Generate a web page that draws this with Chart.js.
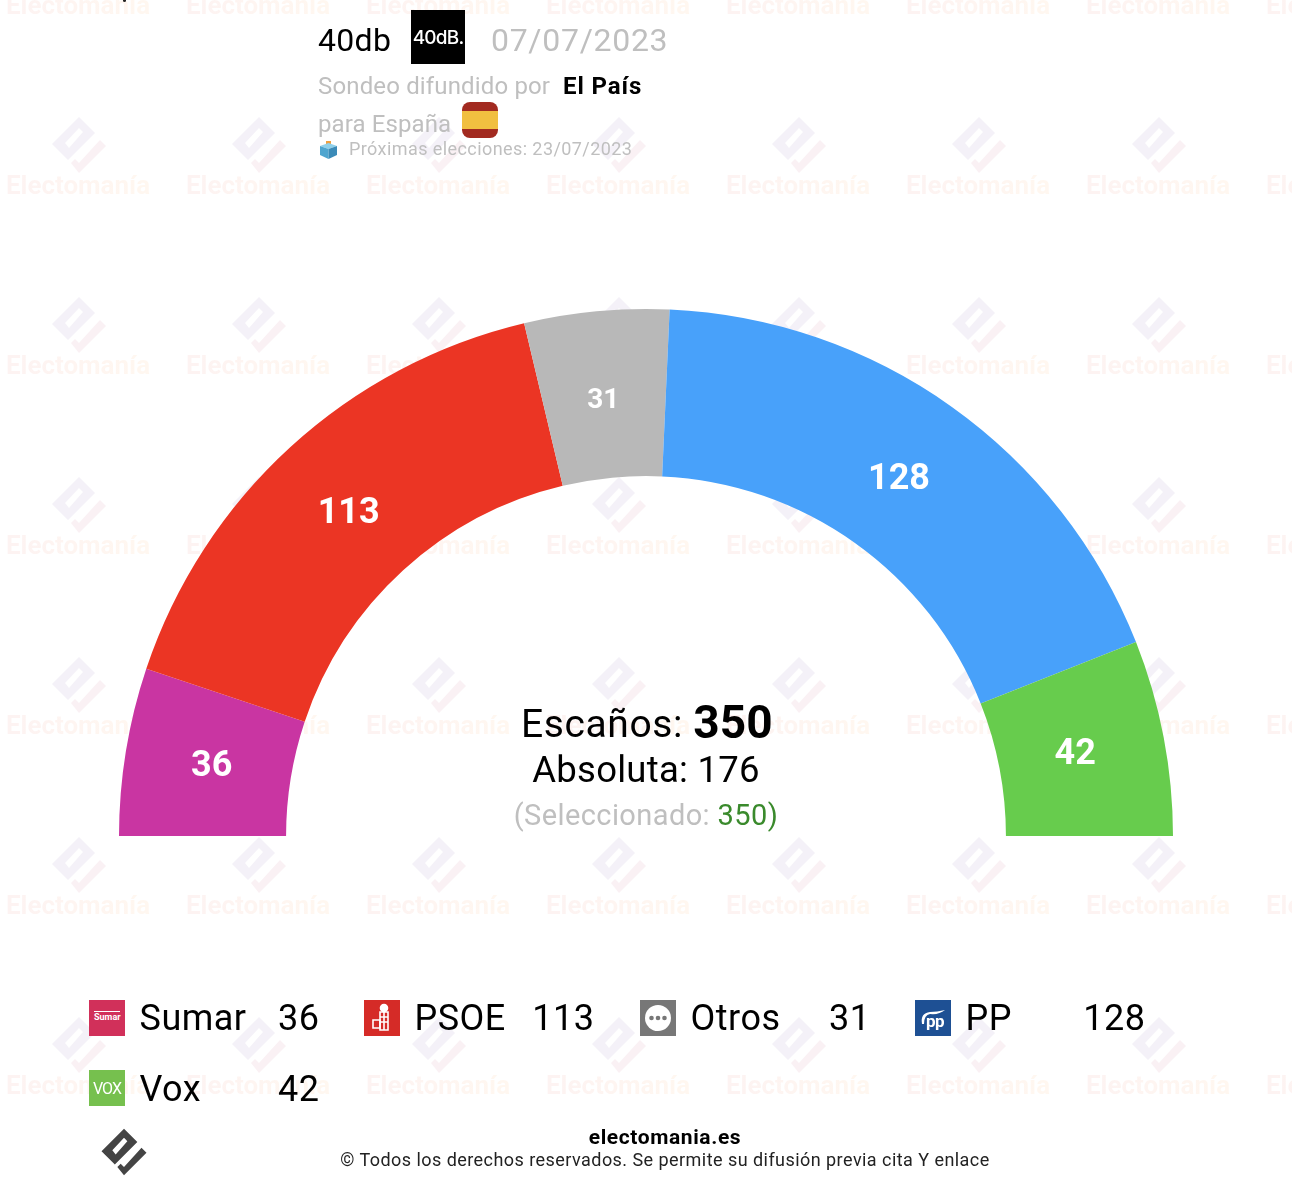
<!DOCTYPE html>
<html>
<head>
<meta charset="utf-8">
<title>40db - Electomanía</title>
<script src="https://cdn.jsdelivr.net/npm/chart.js@4"></script>
<style>
  html, body { margin: 0; padding: 0; background: #fff; }
  body { width: 1292px; height: 1186px; position: relative; overflow: hidden; font-family: Roboto, sans-serif; color: #000; }
  #watermark, #chart, #texts { position: absolute; left: 0; top: 0; }
  #chart { width: 1292px; height: 1186px; }
  .t { position: absolute; white-space: nowrap; line-height: 1; }
  .grey { color: #bfbfbf; }
  .wm { position: absolute; width: 180px; text-align: center; font-size: 26px; font-weight: 700; line-height: 1;
        color: transparent; background: linear-gradient(90deg, #fdf3f2 15%, #fff7f0 85%); -webkit-background-clip: text; background-clip: text; }
  .icon { position: absolute; width: 36px; height: 36px; color: #fff; text-align: center; overflow: hidden; }
</style>
</head>
<body>
<div id="watermark"></div>
<canvas id="chart" width="1292" height="1186"></canvas>
<div id="texts">
  <span class="t" style="left:123px;top:-1px;width:3px;height:3px;background:#222;border-radius:2px"></span>

  <span class="t" style="left:318px;top:24px;font-size:32px;letter-spacing:.3px">40db</span>
  <div class="icon" style="left:411px;top:10px;width:54px;height:54px;background:#000;font-size:19px;font-weight:500;line-height:55px;font-family:Inter,Roboto,sans-serif;letter-spacing:-.8px">40dB.</div>
  <span class="t grey" style="left:491px;top:24px;font-size:32px;letter-spacing:.7px">07/07/2023</span>

  <span class="t grey" style="left:318px;top:74px;font-size:24px;letter-spacing:.15px">Sondeo difundido por</span>
  <span class="t" style="left:563px;top:74px;font-size:24px;font-weight:700;letter-spacing:.9px">El País</span>
  <span class="t grey" style="left:318px;top:112px;font-size:24px;letter-spacing:.1px">para España</span>
  <svg class="icon" style="left:462px;top:102px" viewBox="0 0 36 36">
    <rect width="36" height="36" rx="8" fill="#a22a20"/><rect y="9" width="36" height="18" fill="#f1bf40"/>
  </svg>
  <svg class="icon" style="left:319px;top:140px;width:19px;height:19px" viewBox="0 0 19 19">
    <rect x="7" y="1" width="5" height="7" fill="#f0a040"/>
    <path d="M1 6 L9.5 3 L18 6 L9.5 9 Z" fill="#8fd0ea"/>
    <path d="M1 6 L9.5 9 V19 L1 15 Z" fill="#4fa5cf"/>
    <path d="M18 6 L9.5 9 V19 L18 15 Z" fill="#3b8bb8"/>
  </svg>
  <span class="t grey" style="left:349px;top:140px;font-size:18px;letter-spacing:.42px">Próximas elecciones: 23/07/2023</span>

  <span class="t" id="centerSeats" style="left:521px;top:698px;font-size:39px;letter-spacing:.6px">Escaños: <b style="font-size:46px;letter-spacing:.1px;position:relative;top:1px"></b></span>
  <span class="t" id="centerMajority" style="left:446px;width:400px;top:752px;font-size:36.5px;text-align:center;letter-spacing:.25px"></span>
  <span class="t grey" id="centerSelected" style="left:446px;width:400px;top:801px;font-size:29px;text-align:center;letter-spacing:.4px"></span>

  <div id="legend"></div>

  <svg style="position:absolute;left:97px;top:1127px" width="54" height="50" viewBox="-32 -30 64 60"><path fill="#444" fill-rule="evenodd" d="M0 -28 L16 -12 L-11 15 L-27 -1 Z M0 -17 L-14 -2 L-10 3 L4 -13 Z"/><path fill="#444" d="M21 -5 L27 1 L0 28 L-8 18 L-4 14 L0 18 Z"/></svg>
  <span class="t" style="left:365px;width:600px;top:1127px;font-size:21px;font-weight:700;text-align:center;letter-spacing:.6px">electomania.es</span>
  <span class="t" style="left:265px;width:800px;top:1151px;font-size:18px;text-align:center;letter-spacing:.45px;color:#222">© Todos los derechos reservados. Se permite su difusión previa cita Y enlace</span>
</div>

<script>
const categories = ["Sumar", "PSOE", "Otros", "PP", "Vox"];
const seats = [36, 113, 31, 128, 42];
const arcColors = ["#c935a2", "#eb3524", "#b8b8b8", "#48a1fa", "#67cc4d"];
const iconColors = ["#d1305a", "#d52b27", "#777777", "#1e5094", "#76c04e"];
const totalSeats = 350;
const majority = 176;
const selected = 350;

// fondo con la marca de agua repetida
const logoPath = '<path fill="#f4f1f8" fill-rule="evenodd" d="M0 -28 L16 -12 L-11 15 L-27 -1 Z M0 -17 L-14 -2 L-10 3 L4 -13 Z"/><path fill="#faf1f4" d="M21 -5 L27 1 L0 28 L-8 18 L-4 14 L0 18 Z"/>';
let wmHtml = "";
for (let row = -1; row < 6; row++) {
  for (let col = 0; col < 8; col++) {
    const x = col * 180 + 79;
    const y = row * 180 + 145;
    wmHtml += `<svg style="position:absolute;left:${x - 32}px;top:${y - 32}px" width="64" height="64" viewBox="-32 -32 64 64">${logoPath}</svg>`;
    wmHtml += `<div class="wm" style="left:${x - 91}px;top:${y + 27}px">Electomanía</div>`;
  }
}
document.getElementById("watermark").innerHTML = wmHtml;

document.querySelector("#centerSeats b").textContent = totalSeats;
document.getElementById("centerMajority").textContent = `Absoluta: ${majority}`;
document.getElementById("centerSelected").innerHTML = `(Seleccionado: <span style="color:#3a8a2c">${selected})</span>`;

const iconInner = {
  Sumar: '<div style="margin:11px 5px 0;border-top:1px solid #fff;font-size:9px;line-height:11px;font-weight:700">Sumar</div>',
  PSOE: '<svg width="36" height="36" viewBox="0 0 36 36" fill="none" stroke="#fff" stroke-width="1.6"><circle cx="20" cy="8" r="3.5" fill="#fff"/><path d="M16 12 H24 V30 H16 Z M16 17 H24 M16 22 H24 M20 12 V30"/><path d="M9 20 H16 V28 H9 Z"/></svg>',
  Otros: '<svg width="36" height="36" viewBox="0 0 36 36"><circle cx="18" cy="18" r="13" fill="#fff"/><circle cx="11.5" cy="18" r="2.3" fill="#777"/><circle cx="18" cy="18" r="2.3" fill="#777"/><circle cx="24.5" cy="18" r="2.3" fill="#777"/></svg>',
  PP: '<svg width="36" height="36" viewBox="0 0 36 36"><path d="M7 24 Q5 13 15 12 Q22 12 30 10 Q24 15 15 14 Q9 15 9 24 Z" fill="#fff"/><text x="11" y="27" font-family="Roboto" font-weight="700" font-size="17" letter-spacing="-.5" fill="#fff">pp</text></svg>',
  Vox: '<div style="font-size:16px;line-height:37px;letter-spacing:-1px">VOX</div>',
};

// leyenda de partidos, cuatro por fila
const legendX = [89, 364, 640, 915];
const legendY = [1000, 1070];
let legendHtml = "";
categories.forEach((name, i) => {
  const x = legendX[i % 4];
  const row = Math.floor(i / 4);
  const y = legendY[row];
  legendHtml += `<div class="icon" style="left:${x}px;top:${y}px;background:${iconColors[i]}">${iconInner[name]}</div>`;
  legendHtml += `<span class="t" style="left:${x + 50.5}px;top:${y + row}px;font-size:36px;letter-spacing:.5px">${name}</span>`;
  legendHtml += `<span class="t" style="left:${x + 130.5}px;width:100px;text-align:right;top:${y + row}px;font-size:36px;letter-spacing:.5px">${seats[i]}</span>`;
});
document.getElementById("legend").innerHTML = legendHtml;

const arcLabels = {
  id: "arcLabels",
  afterDatasetsDraw(chart) {
    const ctx = chart.ctx;
    chart.getDatasetMeta(0).data.forEach((arc, i) => {
      const p = arc.getProps(["x", "y", "startAngle", "endAngle", "innerRadius", "outerRadius"], true);
      const mid = (p.startAngle + p.endAngle) / 2;
      const r = p.innerRadius + (p.outerRadius - p.innerRadius) * 0.47;
      ctx.save();
      ctx.fillStyle = "#fff";
      ctx.font = `700 ${seats[i] < 35 ? 28 : 36}px Roboto`;
      ctx.textAlign = "center";
      ctx.textBaseline = "middle";
      ctx.fillText(seats[i], p.x + Math.cos(mid) * r - 1.5, p.y + Math.sin(mid) * r + 1.5);
      ctx.restore();
    });
  },
};

new Chart(document.getElementById("chart"), {
  type: "doughnut",
  data: {
    labels: categories,
    datasets: [{ data: seats, backgroundColor: arcColors, borderWidth: 0 }],
  },
  options: {
    responsive: false,
    animation: false,
    rotation: -90,
    circumference: 180,
    cutout: "68.3%",
    layout: { padding: { left: 119, right: 119, top: 309, bottom: 350 } },
    plugins: { legend: { display: false }, tooltip: { enabled: false } },
  },
  plugins: [arcLabels],
});
</script>
</body>
</html>
